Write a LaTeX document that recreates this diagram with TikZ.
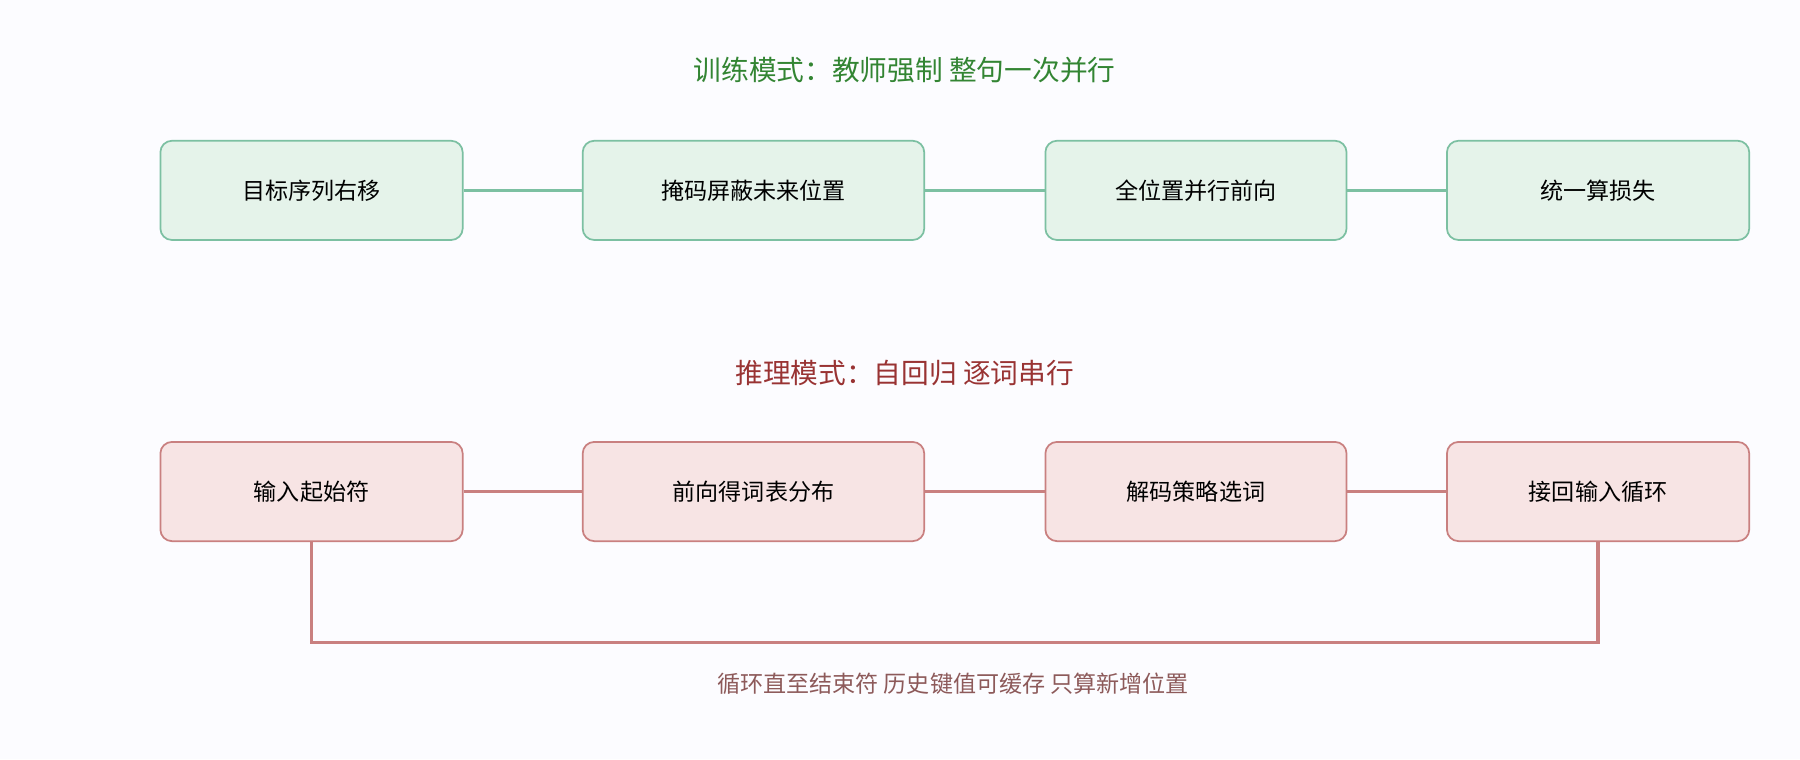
\documentclass[tikz,border=0pt]{standalone}
\usepackage{fontspec}
\setmainfont{Noto Sans CJK SC}
\begin{document}
\begin{tikzpicture}[x=1pt,y=-1pt,
  gbox/.style={draw=gb,fill=gf,line width=1.5pt,rounded corners=10pt,font=\fontsize{20}{24}\selectfont},
  rbox/.style={draw=rb,fill=rf,line width=1.5pt,rounded corners=10pt,font=\fontsize{20}{24}\selectfont},
  gl/.style={draw=gb,line width=3pt},
  rl/.style={draw=rb,line width=3pt}]
\definecolor{gb}{HTML}{7CC0A2}\definecolor{gf}{HTML}{E5F3EA}
\definecolor{rb}{HTML}{C98080}\definecolor{rf}{HTML}{F7E4E4}
\definecolor{bg}{HTML}{FCFCFF}
\fill[bg] (0,0) rectangle (1560,658);
\useasboundingbox (0,0) rectangle (1560,658);
\node[text=green!40!black!80,font=\fontsize{24}{28}\selectfont] (t1) at (784,61) {训练模式：教师强制 整句一次并行};
\node[text=red!50!black!80,font=\fontsize{24}{28}\selectfont] (t2) at (784,323) {推理模式：自回归 逐词串行};
\foreach \n/\a/\b/\t in {a/139/401/目标序列右移,b/505/801/掩码屏蔽未来位置,c/906/1167/全位置并行前向,d/1254/1516/统一算损失}{
  \node[gbox,minimum width=\b-\a,minimum height=86] (\n) at ({(\a+\b)/2},165) {\t};}
\foreach \n/\a/\b/\t in {e/139/401/输入起始符,f/505/801/前向得词表分布,g/906/1167/解码策略选词,h/1254/1516/接回输入循环}{
  \node[rbox,minimum width=\b-\a,minimum height=86] (\n) at ({(\a+\b)/2},426) {\t};}
\draw[gl] (a) -- (b); \draw[gl] (b) -- (c); \draw[gl] (c) -- (d);
\draw[rl] (e) -- (f); \draw[rl] (f) -- (g); \draw[rl] (g) -- (h);
\coordinate (p1) at (270,557); \coordinate (p2) at (1385,557);
\draw[rl] (e.south -| p1) -- (p1) -- (p2) -- (h.south -| p2);
\node[text=rb!70!black,font=\fontsize{20}{24}\selectfont] (lab) at (826,593) {循环直至结束符 历史键值可缓存 只算新增位置};
\end{tikzpicture}
\end{document}
